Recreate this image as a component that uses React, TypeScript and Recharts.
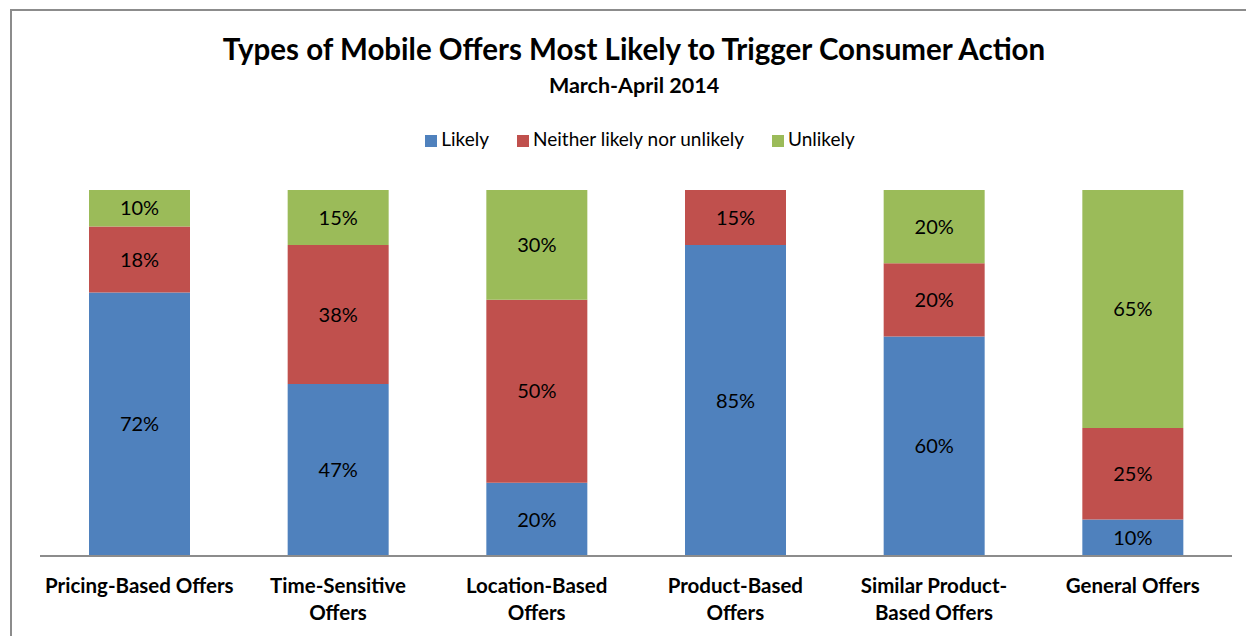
import { BarChart, Bar, XAxis, YAxis, Legend, LabelList } from 'recharts';

const categories = [
  'Pricing-Based Offers',
  'Time-Sensitive\nOffers',
  'Location-Based\nOffers',
  'Product-Based\nOffers',
  'Similar Product-\nBased Offers',
  'General Offers',
];
const likely = [72, 47, 20, 85, 60, 10];
const neither = [18, 38, 50, 15, 20, 25];
const unlikely = [10, 15, 30, 0, 20, 65];

const data = categories.map((name, i) => ({
  name,
  likely: likely[i],
  neither: neither[i],
  unlikely: unlikely[i],
}));

const FONT = 'Lato, "Open Sans", sans-serif';

const pct = (v: any) => (v ? `${v}%` : '');

function WrapTick({ x, y, payload }: any) {
  const lines = String(payload.value).split('\n');
  return (
    <text x={x} y={y + 29} textAnchor="middle" fontFamily={FONT} fontSize={20.5} fontWeight={700} fill="#000">
      {lines.map((l, i) => (
        <tspan key={i} x={x} dy={i === 0 ? 0 : 27}>
          {l}
        </tspan>
      ))}
    </text>
  );
}

export default function App() {
  return (
    <div style={{ position: 'absolute', left: 0, top: 0, width: 1246, height: 636, background: '#fff', fontFamily: FONT }}>
      <div style={{ position: 'absolute', left: 10, top: 9, width: 1236, height: 627, borderLeft: '2px solid #8c8c8c', borderTop: '2px solid #8c8c8c' }} />
      <div style={{ position: 'absolute', left: 0, width: 1268, top: 31, textAlign: 'center', fontSize: 29.5, fontWeight: 700, color: '#000' }}>
        Types of Mobile Offers Most Likely to Trigger Consumer Action
      </div>
      <div style={{ position: 'absolute', left: 0, width: 1268, top: 72, textAlign: 'center', fontSize: 21.5, fontWeight: 700, color: '#000' }}>
        March-April 2014
      </div>
      <BarChart width={1246} height={636} data={data} margin={{ top: 167, right: 14, bottom: 50, left: 40 }}>
        <XAxis dataKey="name" tick={<WrapTick />} tickLine={false} axisLine={{ stroke: '#8c8c8c', strokeWidth: 2 }} interval={0} />
        <YAxis hide domain={[0, 100]} />
        <Legend
          verticalAlign="top"
          align="center"
          iconType="square"
          iconSize={12}
          wrapperStyle={{ top: 127, left: 58, fontFamily: FONT, fontSize: 19 }}
          formatter={(v: any) => <span style={{ color: '#000', marginRight: 18 }}>{v}</span>}
        />
        <Bar dataKey="likely" name="Likely" stackId="a" fill="#4F81BD" barSize={101} isAnimationActive={false}>
          <LabelList dataKey="likely" position="center" formatter={pct} fill="#000" fontSize={20} fontFamily={FONT} />
        </Bar>
        <Bar dataKey="neither" name="Neither likely nor unlikely" stackId="a" fill="#C0504D" barSize={101} isAnimationActive={false}>
          <LabelList dataKey="neither" position="center" formatter={pct} fill="#000" fontSize={20} fontFamily={FONT} />
        </Bar>
        <Bar dataKey="unlikely" name="Unlikely" stackId="a" fill="#9BBB59" barSize={101} isAnimationActive={false}>
          <LabelList dataKey="unlikely" position="center" formatter={pct} fill="#000" fontSize={20} fontFamily={FONT} />
        </Bar>
      </BarChart>
    </div>
  );
}
